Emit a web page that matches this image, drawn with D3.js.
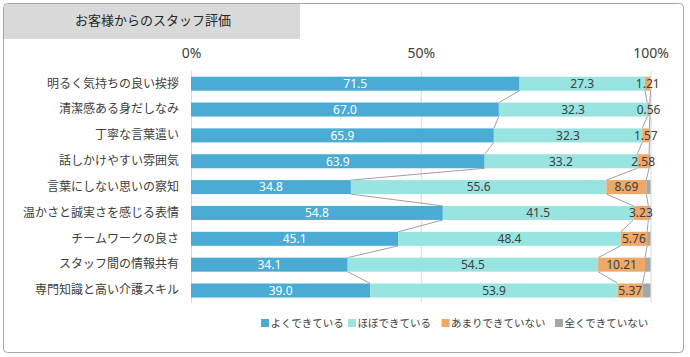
<!DOCTYPE html>
<html><head><meta charset="utf-8">
<script src="https://cdn.jsdelivr.net/npm/d3@7"></script>
<style>
body{margin:0;background:#fff;}
svg{display:block;font-family:"Noto Sans CJK JP","Noto Sans",sans-serif;}
</style></head>
<body><svg id="c" width="690" height="357"></svg>
<script>
const title = "お客様からのスタッフ評価";
const categories = ["明るく気持ちの良い挨拶","清潔感ある身だしなみ","丁寧な言葉遣い","話しかけやすい雰囲気","言葉にしない思いの察知","温かさと誠実さを感じる表情","チームワークの良さ","スタッフ間の情報共有","専門知識と高い介護スキル"];
const seriesNames = ["よくできている","ほぼできている","あまりできていない","全くできていない"];
const good = [71.5,67.0,65.9,63.9,34.8,54.8,45.1,34.1,39.0];
const fair = [27.3,32.3,32.3,33.2,55.6,41.5,48.4,54.5,53.9];
const poor = [1.21,0.56,1.57,2.58,8.69,3.23,5.76,10.21,5.37];
const none = [0.0,0.14,0.23,0.32,0.91,0.47,0.74,1.19,1.73];
const tickValues = [0,50,100];
const colors = ["#4aabd5","#98e4e1","#eea867","#a6a6a6"];

const svg = d3.select("#c");
// outer frame
svg.append("rect").attr("x",3.5).attr("y",3.5).attr("width",680).attr("height",349).attr("rx",4)
  .attr("fill","#fff").attr("stroke","#a6a6a6").attr("stroke-width",1);
// title box
svg.append("path").attr("d","M4,7.5 Q4,4 7.5,4 L300,4 L300,39 L4,39 Z").attr("fill","#d9d9d9");
svg.append("text").attr("x",153).attr("y",20.5).attr("dy","0.36em").attr("text-anchor","middle").attr("font-size",13)
  .attr("fill","#262626").text(title);

const x = d3.scaleLinear().domain([0,100]).range([191,650.5]);
const y = d3.scaleBand().domain(categories).range([71,303.2]).paddingInner(0.458).paddingOuter(0.22);

// gridlines
svg.append("g").selectAll("line").data(tickValues).join("line")
  .attr("x1",d=>x(d)+0.5).attr("x2",d=>x(d)+0.5).attr("y1",71).attr("y2",303)
  .attr("stroke","#d9d9d9").attr("stroke-width",1);
// top tick labels
const ax = svg.append("g").attr("transform","translate(0,58)")
  .call(d3.axisTop(x).tickValues(tickValues).tickFormat(d=>d+"%").tickSize(0).tickPadding(0));
ax.select(".domain").remove();
ax.selectAll("text").attr("font-size",14).attr("fill","#404040").attr("dy",0).attr("font-family","'Noto Sans','Noto Sans CJK JP',sans-serif");

// category labels
const ay = svg.append("g").attr("transform","translate(179,0)")
  .call(d3.axisLeft(y).tickSize(0).tickPadding(0));
ay.select(".domain").remove();
ay.selectAll("text").attr("font-size",12).attr("fill","#404040").attr("font-family","'Noto Sans CJK JP',sans-serif");

// stack
const rows = categories.map((c,i)=>({cat:c, s0:good[i], s1:fair[i], s2:poor[i], s3:none[i]}));
const stack = d3.stack().keys(["s0","s1","s2","s3"])(rows);

// series lines
const lineG = svg.append("g");
for (let k=0;k<3;k++){
  const layer = stack[k];
  for (let i=0;i<categories.length-1;i++){
    lineG.append("line")
      .attr("x1",x(layer[i][1])).attr("y1",y(categories[i])+y.bandwidth())
      .attr("x2",x(layer[i+1][1])).attr("y2",y(categories[i+1]))
      .attr("stroke","#a0a0a0").attr("stroke-width",1);
  }
}

const bars = svg.append("g");
stack.forEach((layer,k)=>{
  bars.append("g").attr("fill",colors[k]).selectAll("rect").data(layer).join("rect")
    .attr("x",d=>x(d[0])).attr("y",d=>y(d.data.cat))
    .attr("width",d=>Math.max(0,x(d[1])-x(d[0]))).attr("height",y.bandwidth());
});

// labels
const fmts = [d3.format(".1f"), d3.format(".1f"), d3.format(".2f")];
const lab = svg.append("g").attr("font-size",12).attr("font-family","'Noto Sans','Liberation Sans',sans-serif").attr("text-anchor","middle");
for (let k=0;k<3;k++){
  lab.selectAll(null).data(stack[k]).join("text")
    .attr("x",d=>(x(d[0])+x(d[1]))/2).attr("y",d=>y(d.data.cat)+y.bandwidth()/2)
    .attr("dy","0.36em")
    .attr("fill",k===0?"#ffffff":"#404040")
    .text(d=>fmts[k](d[1]-d[0]));
}

// legend
const legX = [261,348,441.5,555];
const lg = svg.append("g");
seriesNames.forEach((n,i)=>{
  lg.append("rect").attr("x",legX[i]).attr("y",319).attr("width",8).attr("height",8).attr("fill",colors[i]);
  lg.append("text").attr("x",legX[i]+9.5).attr("y",323).attr("dy","0.36em").attr("font-size",10.5)
    .attr("fill","#404040").text(n);
});
</script></body></html>
